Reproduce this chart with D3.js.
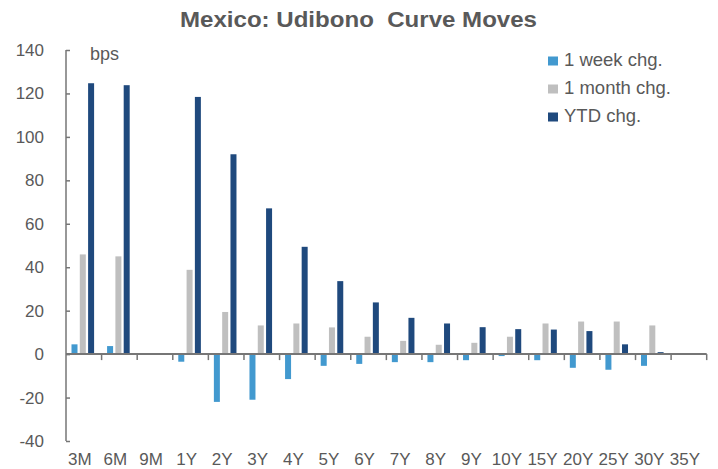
<!DOCTYPE html>
<html>
<head>
<meta charset="utf-8">
<script src="https://cdn.jsdelivr.net/npm/d3@7"></script>
<style>
  body { margin: 0; background: #fff; }
  text { font-family: "Liberation Sans", Arial, sans-serif; fill: #595959; }
</style>
</head>
<body>
<div id="chart"></div>
<script>
// tenors and the three series (bps)
var tenors = ["3M", "6M", "9M", "1Y", "2Y", "3Y", "4Y", "5Y", "6Y", "7Y", "8Y", "9Y", "10Y", "15Y", "20Y", "25Y", "30Y", "35Y"];
var weekChg = [4.5, 3.7, 0, -3.5, -22, -21, -11.5, -5.4, -4.5, -3.7, -3.7, -2.8, -0.9, -2.8, -6.3, -7.2, -5.4, 0];
var monthChg = [45.9, 45, 0, 38.8, 19.4, 13.2, 14.1, 12.3, 8, 6.1, 4.3, 5.2, 8, 14.1, 15, 15, 13.2, 0];
var ytdChg = [124.7, 123.8, 0, 118.4, 92, 67.1, 49.4, 33.6, 23.8, 16.7, 14.1, 12.4, 11.5, 11.3, 10.6, 4.5, 0.9, 0];
var seriesNames = ["1 week chg.", "1 month chg.", "YTD chg."];
var yTicks = [-40, -20, 0, 20, 40, 60, 80, 100, 120, 140];

var colors = ["#4299CF", "#BFBFBF", "#1F497D"];
var width = 718, height = 469;

var svg = d3.select("#chart").append("svg")
    .attr("width", width)
    .attr("height", height);

var x = d3.scaleBand()
    .domain(tenors)
    .range([66, 706.7])
    .padding(0);

var xInner = d3.scaleBand()
    .domain(seriesNames)
    .range([-12.3, 10.3])
    .paddingInner(0.277)
    .paddingOuter(0);

var y = d3.scaleLinear()
    .domain([-40, 140])
    .range([441, 50]);

// title (wide, slightly stretched like the source)
svg.append("text")
    .attr("x", 180)
    .attr("y", 26.5)
    .attr("textLength", 357)
    .attr("lengthAdjust", "spacingAndGlyphs")
    .style("font-size", "21.5px")
    .style("font-weight", "bold")
    .style("white-space", "pre")
    .text("Mexico: Udibono  Curve Moves");

// bars
var rows = tenors.map(function (t, i) {
    return { tenor: t, vals: [weekChg[i], monthChg[i], ytdChg[i]] };
});

var groups = svg.selectAll("g.grp")
    .data(rows).enter()
    .append("g")
    .attr("class", "grp")
    .attr("transform", function (d) { return "translate(" + (x(d.tenor) + x.bandwidth() / 2) + ",0)"; });

groups.selectAll("rect")
    .data(function (d) { return d.vals.map(function (v, k) { return { v: v, k: k }; }); })
    .enter().append("rect")
    .attr("x", function (d) { return xInner(seriesNames[d.k]); })
    .attr("width", xInner.bandwidth())
    .attr("y", function (d) { return y(Math.max(0, d.v)); })
    .attr("height", function (d) { return Math.abs(y(d.v) - y(0)); })
    .attr("fill", function (d) { return colors[d.k]; });

// y axis
var yAxis = svg.append("g")
    .attr("transform", "translate(66,0)")
    .call(d3.axisRight(y).tickValues(yTicks).tickSize(4).tickFormat(""));
yAxis.select(".domain").remove();
yAxis.selectAll("line").attr("stroke", "#767676").attr("stroke-width", 1.5);
svg.append("line")
    .attr("x1", 66).attr("x2", 66)
    .attr("y1", y(140)).attr("y2", y(-40))
    .attr("stroke", "#767676").attr("stroke-width", 1.5);

svg.selectAll("text.ylab")
    .data(yTicks).enter()
    .append("text")
    .attr("class", "ylab")
    .attr("x", 44)
    .attr("y", function (d) { return y(d) + 6; })
    .attr("text-anchor", "end")
    .style("font-size", "17px")
    .text(function (d) { return d; });

// x axis at zero with ticks between categories
var edges = tenors.map(function (t) { return x(t); }).concat([x.range()[1]]);
svg.append("line")
    .attr("x1", 66).attr("x2", 706.7)
    .attr("y1", y(0)).attr("y2", y(0))
    .attr("stroke", "#767676").attr("stroke-width", 2);
svg.selectAll("line.xtick")
    .data(edges.slice(1)).enter()
    .append("line")
    .attr("class", "xtick")
    .attr("x1", function (d) { return d; }).attr("x2", function (d) { return d; })
    .attr("y1", y(0)).attr("y2", y(0) + 6)
    .attr("stroke", "#767676").attr("stroke-width", 1.5);

// category labels at the bottom
svg.selectAll("text.xlab")
    .data(tenors).enter()
    .append("text")
    .attr("class", "xlab")
    .attr("x", function (d) { return x(d) + x.bandwidth() / 2 - 4; })
    .attr("y", 465)
    .attr("text-anchor", "middle")
    .style("font-size", "17px")
    .text(function (d) { return d; });

// unit label
svg.append("text")
    .attr("x", 90)
    .attr("y", 60)
    .style("font-size", "18px")
    .text("bps");

// legend
var legend = svg.selectAll("g.leg")
    .data(seriesNames).enter()
    .append("g")
    .attr("class", "leg")
    .attr("transform", function (d, i) { return "translate(548," + (61 + i * 28) + ")"; });
legend.append("rect")
    .attr("x", 0).attr("y", -4.5)
    .attr("width", 10).attr("height", 9)
    .attr("fill", function (d, i) { return colors[i]; });
legend.append("text")
    .attr("x", 16)
    .attr("y", 4.5)
    .style("font-size", "18.5px")
    .text(function (d) { return d; });
</script>
</body>
</html>
